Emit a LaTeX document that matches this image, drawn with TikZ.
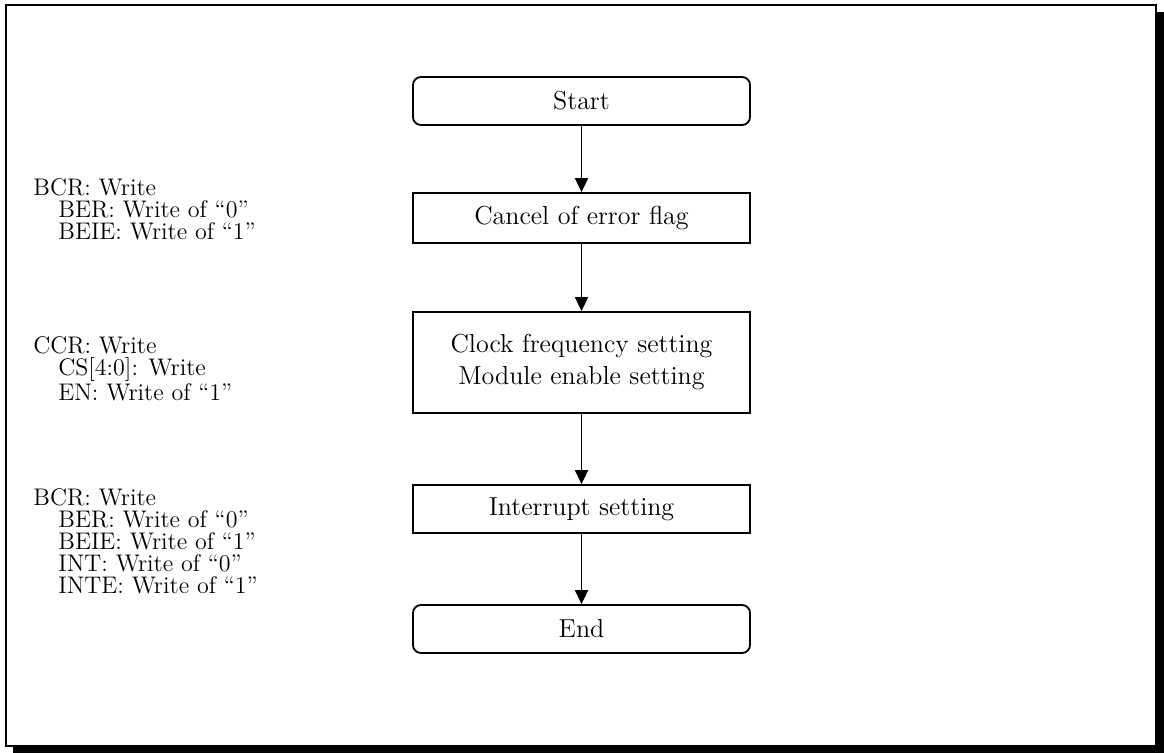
\documentclass[tikz,border=0pt]{standalone}
\usetikzlibrary{arrows.meta}
\begin{document}
\begin{tikzpicture}[x=0.5pt,y=-0.5pt,
  boxfont/.style={font=\fontsize{13}{12}\selectfont},
  stepbox/.style={boxfont,draw,line width=0.9pt,minimum width=168.5pt,inner sep=0pt},
  termbox/.style={stepbox,rounded corners=4pt},
  flow/.style={line width=0.9pt,-{Triangle[length=7pt,width=6.5pt]}},
  note/.style={font=\fontsize{12}{11}\selectfont,align=left,anchor=north west,inner sep=0pt}]
\useasboundingbox (0,0) rectangle (1164,753);
% frame with shadow
\fill[black] (13,12) rectangle (1164,753);
\draw[fill=white,line width=0.9pt] (6,5) rectangle (1156,746);
% boxes
\node[termbox,minimum height=24pt] (start) at (581.5,101) {Start};
\node[stepbox,minimum height=25pt] (cancel) at (581.5,218) {Cancel of error flag};
\node[stepbox,minimum height=50.5pt,align=center] (clock) at (581.5,362.5) {Clock frequency setting\\[4pt]Module enable setting};
\node[stepbox,minimum height=24pt] (intr) at (581.5,509) {Interrupt setting};
\node[termbox,minimum height=24pt] (end) at (581.5,629) {End};
% connectors
\draw[flow] (start) -- (cancel);
\draw[flow] (cancel) -- (clock);
\draw[flow] (clock) -- (intr);
\draw[flow] (intr) -- (end);
% notes
\node[note] (n1) at (33,178) {BCR: Write\\\hspace*{12.5pt}BER: Write of ``0''\\\hspace*{12.5pt}BEIE: Write of ``1''};
\node[note] (n2) at (33,336) {CCR: Write\\\hspace*{12.5pt}CS[4:0]: Write\\\hspace*{12.5pt}EN: Write of ``1''};
\node[note] (n3) at (33,488) {BCR: Write\\\hspace*{12.5pt}BER: Write of ``0''\\\hspace*{12.5pt}BEIE: Write of ``1''\\\hspace*{12.5pt}INT: Write of ``0''\\\hspace*{12.5pt}INTE: Write of ``1''};
\end{tikzpicture}
\end{document}
